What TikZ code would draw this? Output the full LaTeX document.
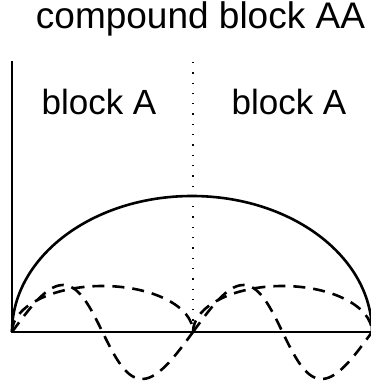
\documentclass[tikz,border=0pt]{standalone}
\usepackage{fontspec}
\setmainfont{Liberation Sans}
\usepackage{tikz}

\tikzset{
  lbl/.style={anchor=base,inner sep=0pt,font=\fontsize{35}{42}\selectfont},
  half/.style={dash pattern=on 12pt off 8pt}
}

\begin{document}
\begin{tikzpicture}[x=1pt,y=1pt,line width=2.6pt]
\clip (0,0) rectangle (371,381);
\node[lbl,font=\fontsize{37}{44}\selectfont] (title) at (200.5,352) {compound block AA};
\node[lbl] (blkl) at (99,266) {block A};
\node[lbl] (blkr) at (289,266) {block A};
% axes and the split between the blocks
\draw (12,320)--(12,49)--(375,49);
\draw[line width=2pt,dash pattern=on 1.3pt off 9pt] (193,319)--(193,49);
% compound curve
\draw (12,49) arc[start angle=180,end angle=0,x radius=180,y radius=136];
% the two blocks
\foreach \a/\w in {12/181,193/179}{
  \draw[half] (\a,49) arc[start angle=180,end angle=0,x radius=\w/2,y radius=46];
  \draw[half] plot[domain=0:360,samples=72,smooth]
    ({\a+\w*(\x/360+0.2*sin(\x)/6.283)},{49+47*sin(\x)});
}
\end{tikzpicture}
\end{document}
